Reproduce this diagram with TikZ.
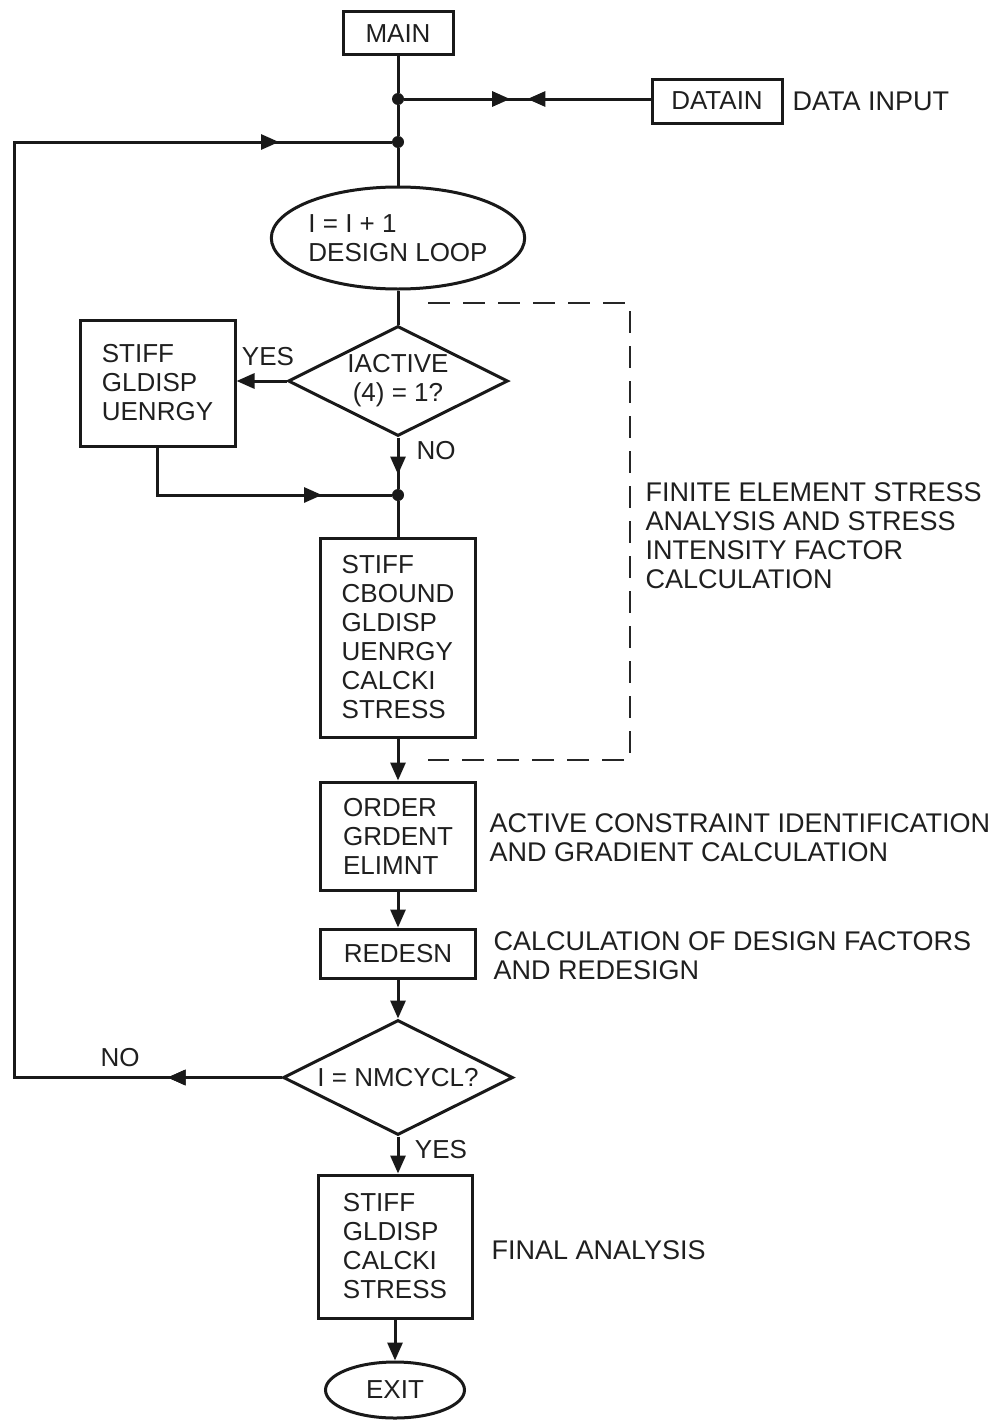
\documentclass[tikz,border=0pt]{standalone}
\usepackage{fontspec}
\setmainfont{Liberation Sans}
\usetikzlibrary{shapes.geometric,arrows.meta,decorations.markings,calc}
\begin{document}
\begin{tikzpicture}[x=1pt,y=-1pt,
  every node/.style={font=\fontsize{26}{29}\selectfont, text=black!88},
  side/.style={font=\fontsize{27}{29}\selectfont, align=left, anchor=west},
  ln/.style={line width=3pt, draw=black!90},
  box/.style={draw=black!90, line width=3pt, inner sep=0pt, align=left},
  tip/.style={-{Triangle[length=18pt,width=15pt]}},
  midarr/.style={postaction=decorate, decoration={markings,
     mark=at position #1 with {\arrow{Triangle[length=18pt,width=15pt]}}}},
  dualarr/.style={postaction=decorate, decoration={markings,
     mark=at position 0.43 with {\arrow{Triangle[length=18pt,width=15pt]}},
     mark=at position 0.50 with {\arrowreversed{Triangle[length=18pt,width=15pt]}}}},
  jdot/.style={circle, fill=black!90, inner sep=0pt, minimum size=12pt},
  dec/.style={diamond, shape aspect=2, draw=black!90, line width=3pt, inner sep=-8pt, align=center},
  oval/.style={ellipse, draw=black!90, line width=3pt, inner sep=0pt}
]
\useasboundingbox[fill=white] (0,0) rectangle (1000,1421);

% nodes
\node[box, align=center, minimum width=110pt, minimum height=43pt] (main) at (398,33.5) {MAIN};
\node[box, align=center, minimum width=130pt, minimum height=44pt] (datain) at (717,101) {DATAIN};
\node[side] (datalbl) at (789,101) {DATA INPUT};
\node[jdot] (j1) at (398,99) {};
\node[jdot] (j2) at (398,142) {};
\node[oval, align=left, minimum width=242pt, minimum height=102pt] (loop) at (398,238) {I = I + 1\\DESIGN LOOP};
\node[dec, minimum width=220pt, minimum height=110pt] (d1) at (398,381) {IACTIVE\\(4) = 1?};
\node[box, minimum width=155pt, minimum height=126pt] (lbox) at (157.5,383) {STIFF\\GLDISP\\UENRGY};
\node (yes1) at (268,357) {YES};
\node (no1) at (436,451) {NO};
\node[jdot] (j3) at (398,495) {};
\node[box, minimum width=155pt, minimum height=199pt] (b2) at (398,637.5) {STIFF\\CBOUND\\GLDISP\\UENRGY\\CALCKI\\STRESS};
\node[side] (felbl) at (642,536) {FINITE ELEMENT STRESS\\ANALYSIS AND STRESS\\INTENSITY FACTOR\\CALCULATION};
\node[box, minimum width=155pt, minimum height=108pt] (order) at (398,836) {ORDER\\GRDENT\\ELIMNT};
\node[side] (acl) at (486,838) {ACTIVE CONSTRAINT IDENTIFICATION\\AND GRADIENT CALCULATION};
\node[box, align=center, minimum width=155pt, minimum height=49pt] (redesn) at (398,953.5) {REDESN};
\node[side] (cal) at (490,956) {CALCULATION OF DESIGN FACTORS\\AND REDESIGN};
\node[dec, minimum width=230pt, minimum height=115pt] (d2) at (398,1077.5) {I = NMCYCL?};
\node (no2) at (120,1058) {NO};
\node (yes2) at (441,1150) {YES};
\node[box, minimum width=154pt, minimum height=143pt] (final) at (395,1246.5) {STIFF\\GLDISP\\CALCKI\\STRESS};
\node[side] (fa) at (488,1250) {FINAL ANALYSIS};
\node[oval, minimum width=139pt, minimum height=56pt] (exit) at (395,1390) {EXIT};

\coordinate (c1) at (14,142);
\coordinate (c2) at (14,1077.5);

% connectors
\draw[ln] (main.south) -- (j1);
\draw[ln] (j1) -- (j2);
\draw[ln] (j2) -- (loop.north);
\draw[ln, dualarr] (j1) -- (j1 -| datain.west);
\draw[ln] (loop.south) -- (d1.north);
\draw[ln, tip] (d1.west) -- (d1.west -| lbox.east);
\draw[ln, midarr=37pt] (d1.south) -- (j3);
\draw[ln, midarr=212pt] (lbox.south) |- (j3);
\draw[ln] (j3) -- (b2.north);
\draw[ln, tip] (b2.south) -- (order.north);
\draw[ln, tip] (order.south) -- (redesn.north);
\draw[ln, tip] (redesn.south) -- (d2.north);
\draw[ln, tip] (d2.south) -- (d2.south |- final.north);
\draw[ln, tip] (final.south) -- (exit.north);
\draw[ln, line join=miter, midarr=114pt, postaction={decorate, decoration={markings,
   mark=at position 1468pt with {\arrow{Triangle[length=18pt,width=15pt]}}}}]
   (d2.west) -- (c2) -- (c1) -- (j2);

% dashed bracket
\draw[line width=2pt, draw=black!85, dash pattern=on 22pt off 13pt] (428,303) -- (630,303) -- (630,760) -- (428,760);
\end{tikzpicture}
\end{document}
